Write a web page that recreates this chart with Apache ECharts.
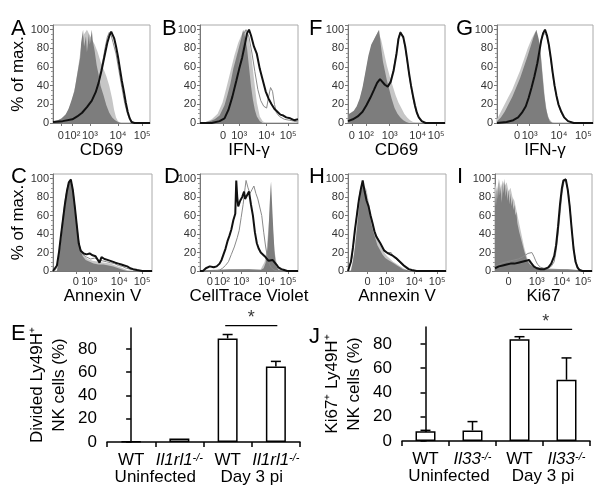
<!DOCTYPE html>
<html><head><meta charset="utf-8">
<script src="https://cdn.jsdelivr.net/npm/echarts@6/dist/echarts.min.js"></script>
<style>html,body{margin:0;padding:0;background:#fff}#c{width:600px;height:497px}</style>
</head><body><div id="c"></div>
<script>
// ---------- Histogram data (x: position along the log/biexponential axis, 0-100; y: % of max) ----------
const aLight = [[0,1],[8,4],[14,10],[19,22],[23,40],[26,60],[29,82],[32,95],[35,100],[39,92],[43,84],[46,76],[49,66],[52,58],[55,50],[58,40],[61,26],[63,14],[65,6],[67,2],[70,0],[100,0]];
const aDark = [[0,2],[5,3],[9,5],[13,9],[16,15],[19,24],[22,34],[24,46],[26,58],[28,70],[29,86],[31,100],[32,82],[34,93],[35,76],[37,96],[38,84],[40,100],[41,88],[43,77],[45,62],[47,52],[49,40],[52,30],[55,19],[58,11],[61,6],[64,3],[67,1],[70,0],[100,0]];
const aGray = [[0,1],[12,2],[20,4],[26,7],[32,13],[37,20],[42,30],[46,42],[49,55],[52,70],[54,82],[56,92],[58,97],[60,94],[62,86],[65,74],[68,56],[71,38],[74,21],[77,9],[80,3],[83,0],[100,0]];
const aBlack = [[0,1],[10,2],[20,4],[25,7],[30,11],[35,17],[40,24],[44,33],[47,43],[50,56],[52,66],[54,76],[56,86],[58,93],[60,98],[61,100],[63,91],[65,82],[67,71],[69,58],[71,45],[73,34],[75,22],[77,12],[79,5],[81,1],[84,0],[100,0]];

const bLight = [[0,0],[6,1],[12,4],[18,10],[23,22],[27,38],[31,55],[35,72],[39,86],[43,96],[46,100],[49,94],[52,76],[55,48],[58,22],[61,7],[64,2],[67,0],[100,0]];
const bDark = [[0,0],[10,2],[15,4],[20,8],[25,19],[28,30],[31,42],[34,58],[37,70],[40,82],[42,90],[44,100],[46,92],[48,80],[50,60],[52,40],[54,25],[56,14],[58,7],[61,2],[64,0],[100,0]];
const bGray = [[0,0],[12,0],[22,3],[28,10],[33,25],[38,50],[42,80],[45,96],[47,100],[50,92],[53,75],[56,55],[59,36],[62,24],[65,18],[68,16],[70,28],[72,38],[74,34],[76,20],[78,11],[81,7],[86,4],[91,3],[96,2],[100,1]];
const bBlack = [[0,0],[12,0],[20,2],[25,5],[29,14],[33,28],[37,45],[40,58],[43,70],[46,85],[48,96],[50,100],[52,94],[55,82],[58,74],[61,58],[64,46],[67,34],[70,26],[73,20],[76,15],[79,12],[82,9],[85,8],[88,6],[92,5],[96,3],[100,4]];

const fLight = [[0,6],[4,9],[8,14],[12,24],[16,42],[20,64],[24,82],[28,92],[31,98],[34,90],[37,76],[40,62],[43,50],[46,40],[49,30],[52,22],[55,16],[58,10],[61,6],[64,3],[67,1],[70,0],[100,0]];
const fDark = [[0,9],[3,11],[6,13],[9,18],[12,26],[15,38],[18,55],[21,72],[24,84],[27,90],[30,96],[32,100],[34,82],[36,66],[38,56],[40,46],[42,38],[45,26],[48,16],[51,10],[54,6],[57,3],[60,1],[63,0],[100,0]];
const fGray = [[0,2],[5,4],[10,8],[15,13],[19,20],[23,28],[27,37],[30,44],[33,47],[35,45],[38,41],[41,40],[44,46],[47,58],[50,76],[52,91],[54,98],[55,97],[57,91],[59,80],[61,66],[63,51],[65,38],[67,27],[69,17],[71,10],[73,5],[76,2],[80,0],[100,0]];
const fBlack = [[0,2],[5,4],[10,7],[15,12],[19,19],[23,27],[27,36],[30,43],[33,47],[35,46],[38,41],[41,39],[44,44],[47,56],[50,74],[52,90],[54,97],[55,99],[57,92],[59,82],[61,68],[63,53],[65,40],[67,29],[69,19],[71,11],[73,6],[76,2],[80,0],[100,0]];

const gLight = [[0,4],[4,12],[8,20],[12,28],[16,36],[20,46],[24,56],[28,68],[32,80],[36,90],[40,98],[42,100],[44,88],[46,70],[48,48],[50,26],[52,12],[54,5],[57,1],[60,0],[100,0]];
const gDark = [[0,2],[4,6],[8,12],[12,20],[16,28],[20,38],[24,48],[28,60],[32,72],[35,82],[38,92],[41,100],[43,92],[45,80],[47,55],[49,32],[51,16],[53,7],[55,2],[58,0],[100,0]];
const gGray = [[0,0],[10,1],[17,3],[22,7],[26,12],[30,19],[33,28],[36,40],[39,52],[42,66],[44,78],[46,89],[48,97],[50,99],[52,93],[54,82],[56,68],[58,52],[60,38],[62,28],[64,19],[67,11],[70,5],[74,2],[80,0],[100,0]];
const gBlack = [[0,0],[10,1],[17,3],[22,6],[26,11],[30,18],[33,27],[36,38],[39,50],[42,64],[44,76],[46,88],[48,96],[50,100],[52,94],[54,84],[56,70],[58,54],[60,40],[62,29],[64,20],[67,12],[70,6],[74,2],[80,0],[100,0]];

const cLight = [[0,0],[4,0],[6,12],[8,30],[10,52],[12,74],[14,90],[16,98],[18,96],[20,86],[22,68],[24,50],[26,34],[28,24],[31,17],[35,13],[40,11],[46,10],[52,9],[58,8],[63,6],[68,4],[73,2],[77,0],[100,0]];
const cDark = [[0,0],[4,0],[6,15],[8,32],[10,50],[12,70],[14,88],[16,96],[18,100],[20,85],[22,65],[24,48],[26,32],[28,22],[30,16],[33,12],[37,10],[41,8],[46,7],[51,7],[56,6],[61,5],[66,3],[71,1],[75,0],[100,0]];
const cGray = [[0,0],[3,2],[5,10],[7,28],[9,48],[11,66],[13,82],[15,92],[17,97],[19,94],[21,80],[23,60],[25,40],[27,26],[30,18],[34,15],[38,13],[42,14],[46,12],[50,11],[54,10],[58,9],[62,8],[66,6],[70,5],[74,3],[78,2],[83,1],[88,0],[100,0]];
const cBlack = [[0,0],[2,1],[4,6],[6,20],[8,38],[10,55],[12,72],[14,86],[16,96],[18,99],[20,88],[22,70],[24,50],[26,30],[28,22],[31,19],[34,18],[37,19],[40,17],[43,16],[45,15],[47,9],[49,15],[52,13],[55,12],[58,11],[60,12],[63,9],[66,8],[69,7],[72,6],[75,5],[78,3],[81,2],[85,1],[90,0],[100,0]];

const dLight = [[0,0],[10,1],[30,1],[50,2],[62,2],[64,4],[66,10],[68,24],[69.5,42],[71,62],[72,72],[73,66],[74,52],[75,36],[76,22],[78,10],[80,4],[82,1],[85,0],[100,0]];
const dDark = [[0,0],[10,1],[30,2],[50,2],[62,1],[65,3],[67,9],[69,26],[70,45],[71,70],[72,90],[72.5,97],[73,85],[74,62],[75,40],[76,22],[77,10],[78,5],[80,1],[82,0],[100,0]];
const dGray = [[0,0],[15,0],[20,1],[23,3],[26,6],[29,10],[32,18],[35,26],[38,36],[40,44],[42,58],[44,72],[46,90],[47,98],[49,90],[51,84],[53,88],[55,92],[57,84],[59,78],[61,76],[63,60],[65,42],[67,26],[69,14],[71,7],[73,3],[76,1],[79,0],[100,0]];
const dBlack = [[0,0],[3,0],[6,3],[10,5],[14,4],[17,5],[20,8],[22,12],[24,18],[26,24],[28,32],[30,38],[32,45],[34,55],[36,62],[37,98],[38,80],[39,70],[41,76],[43,80],[45,86],[46,78],[48,80],[50,86],[52,72],[54,60],[56,42],[58,30],[60,24],[62,20],[64,18],[66,16],[68,14],[70,11],[72,9],[74,12],[76,10],[78,7],[80,4],[83,2],[86,1],[89,0],[100,0]];

const hLight = [[0,0],[3,1],[5,12],[7,28],[9,50],[11,70],[13,86],[15,95],[17,96],[19,88],[21,76],[23,64],[25,54],[27,45],[29,38],[31,32],[34,26],[37,20],[40,16],[43,13],[46,10],[49,8],[52,6],[55,4],[58,2],[62,1],[66,0],[100,0]];
const hDark = [[0,0],[3,0],[5,10],[7,24],[9,44],[11,66],[13,84],[15,96],[16,98],[18,86],[20,74],[22,62],[24,50],[26,42],[28,35],[30,28],[32,24],[35,18],[38,14],[41,12],[44,10],[47,8],[50,6],[53,4],[56,2],[60,1],[64,0],[100,0]];
const hGray = [[0,0],[2,1],[4,14],[6,32],[8,52],[10,70],[12,84],[14,94],[16,96],[18,84],[20,72],[22,62],[24,54],[26,46],[28,40],[30,36],[32,32],[34,28],[36,24],[38,22],[40,20],[42,19],[44,20],[46,16],[48,14],[50,12],[52,10],[55,7],[58,4],[61,2],[64,1],[68,0],[100,0]];
const hBlack = [[0,0],[2,1],[3,10],[5,25],[7,44],[9,60],[11,76],[13,88],[15,98],[17,86],[19,76],[21,70],[23,60],[25,52],[27,43],[29,37],[31,35],[33,30],[35,26],[37,22],[39,20],[41,19],[43,18],[45,17],[47,15],[49,14],[51,12],[53,10],[55,8],[57,6],[59,4],[62,2],[65,1],[70,0],[100,0]];

const iLight = [[0,95],[2,86],[4,100],[6,90],[8,98],[10,92],[12,96],[14,86],[16,90],[18,80],[20,76],[22,66],[24,56],[26,46],[28,36],[30,26],[32,18],[34,12],[37,8],[40,5],[45,4],[55,3],[70,2],[85,1],[90,0],[100,0]];
const iDark = [[0,88],[1,70],[2,92],[3,78],[4,96],[5,82],[6,90],[7,74],[8,95],[9,84],[10,100],[11,80],[12,90],[13,76],[14,88],[15,72],[16,84],[17,70],[18,78],[19,66],[20,72],[21,60],[22,64],[23,52],[24,50],[25,42],[26,40],[28,30],[30,22],[32,15],[34,10],[36,7],[39,5],[43,4],[48,3],[55,2],[65,2],[75,2],[85,1],[90,0],[100,0]];
const iGray = [[0,5],[4,7],[8,9],[12,10],[16,11],[20,12],[24,13],[28,15],[31,17],[34,19],[36,21],[38,20],[40,16],[42,11],[44,7],[47,4],[50,3],[54,3],[58,5],[61,10],[63,22],[65,40],[67,62],[69,84],[71,96],[72.5,100],[74,94],[76,82],[78,60],[80,36],[82,18],[84,8],[86,3],[89,1],[92,0],[100,0]];
const iBlack = [[0,3],[4,5],[8,6],[12,7],[16,8],[20,8],[24,9],[28,10],[32,11],[35,12],[37,9],[40,5],[43,3],[47,2],[51,2],[55,4],[58,8],[61,16],[63,28],[65,48],[67,72],[69,90],[70.5,98],[72,96],[73,99],[75,88],[77,70],[79,46],[81,24],[83,10],[85,4],[87,1],[90,0],[100,0]];

// ---------- Histogram axis tick positions / labels ----------
const tickPosA = [8, 20, 38, 67, 92], tickLabA = ['0', '10²', '10³', '10⁴', '10⁵'];
const tickPosB = [23.5, 40, 68, 90], tickLabB = ['0', '10³', '10⁴', '10⁵'];
const tickPosF = [4, 18.5, 43, 72, 91], tickLabF = ['0', '10²', '10³', '10⁴', '10⁵'];
const tickPosG = [21, 34, 64.5, 90], tickLabG = ['0', '10³', '10⁴', '10⁵'];
const tickPosC = [23, 36.5, 67, 90], tickLabC = ['0', '10³', '10⁴', '10⁵'];
const tickPosD = [10, 22.5, 42, 68, 90], tickLabD = ['0', '10²', '10³', '10⁴', '10⁵'];
const tickPosH = [20, 39, 67.5, 91], tickLabH = ['0', '10³', '10⁴', '10⁵'];
const tickPosI = [14, 43, 69, 91], tickLabI = ['0', '10³', '10⁴', '10⁵'];

// ---------- Bar chart data ----------
const eCategories = ['WT', 'Il1rl1', 'WT', 'Il1rl1'];
const eGroups = ['Uninfected', 'Day 3 pi'];
const eValues = [0.5, 3.0, 89, 65];
const eErrors = [0, 0, 3.4, 4.3];
const eSig = [2, 3], eSigLevel = 100;

const jCategories = ['WT', 'Il33', 'WT', 'Il33'];
const jGroups = ['Uninfected', 'Day 3 pi'];
const jValues = [8, 8.7, 84, 50.5];
const jErrors = [0.8, 7.3, 2, 18];
const jSig = [2, 3], jSigLevel = 92;
const barTicks = [0, 20, 40, 60, 80];

// ---------- Build ----------
const FONT = '"Liberation Sans", Arial, Helvetica, sans-serif';
const chart = echarts.init(document.getElementById('c'), null, {renderer: 'canvas'});

const panels = [
  {L: 'A', box: [53, 25, 97, 98], pos: tickPosA, lab: tickLabA, name: 'CD69', c: [aLight, aDark, aGray, aBlack], yName: true, lm: 7, ng: 9, letter: [6, 13]},
  {L: 'B', box: [200, 25, 98, 98], pos: tickPosB, lab: tickLabB, name: 'IFN-γ', c: [bLight, bDark, bGray, bBlack], lm: 7, ng: 9, letter: [157, 13]},
  {L: 'F', box: [348, 25, 97, 98], pos: tickPosF, lab: tickLabF, name: 'CD69', c: [fLight, fDark, fGray, fBlack], lm: 7, ng: 9, letter: [304, 13]},
  {L: 'G', box: [497, 25, 96, 98], pos: tickPosG, lab: tickLabG, name: 'IFN-γ', c: [gLight, gDark, gGray, gBlack], lm: 7, ng: 9, letter: [451, 13]},
  {L: 'C', box: [53, 174, 99, 97], pos: tickPosC, lab: tickLabC, name: 'Annexin V', c: [cLight, cDark, cGray, cBlack], yName: true, lm: 5, ng: 16, letter: [6, 161]},
  {L: 'D', box: [200, 174, 98, 97], pos: tickPosD, lab: tickLabD, name: 'CellTrace Violet', c: [dLight, dDark, dGray, dBlack], lm: 5, ng: 16, letter: [159, 161]},
  {L: 'H', box: [348, 174, 98, 97], pos: tickPosH, lab: tickLabH, name: 'Annexin V', c: [hLight, hDark, hGray, hBlack], lm: 5, ng: 16, letter: [304, 161]},
  {L: 'I', box: [495, 174, 97, 97], pos: tickPosI, lab: tickLabI, name: 'Ki67', c: [iLight, iDark, iGray, iBlack], lm: 5, ng: 16, letter: [452, 161]}
];

const grid = [], xAxis = [], yAxis = [], series = [], title = [];
const curveStyles = [
  {area: '#c6c6c6'},
  {area: '#7d7d7d'},
  {line: '#8a8a8a', w: 1},
  {line: '#111111', w: 2}
];

panels.forEach((p, i) => {
  grid.push({left: p.box[0], top: p.box[1], width: p.box[2], height: p.box[3], show: true, borderColor: '#aaaaaa', borderWidth: 1});
  xAxis.push({
    gridIndex: i, type: 'value', min: 0, max: 100, position: 'bottom',
    axisLine: {show: true, onZero: false, lineStyle: {color: '#777', width: 1}},
    axisTick: {show: true, customValues: p.pos, length: 3, lineStyle: {color: '#777'}},
    axisLabel: {customValues: p.pos, fontSize: 11, color: '#333', margin: p.lm, fontFamily: FONT, hideOverlap: false,
      formatter: v => { const k = p.pos.findIndex(t => Math.abs(t - v) < 0.01); return k >= 0 ? p.lab[k] : ''; }},
    splitLine: {show: false},
    name: p.name, nameLocation: 'middle', nameGap: p.ng,
    nameTextStyle: {fontSize: 17, color: '#000', fontFamily: FONT}
  });
  yAxis.push({
    gridIndex: i, type: 'value', min: 0, max: 105, interval: 20,
    axisLine: {show: true, onZero: false, lineStyle: {color: '#777', width: 1}},
    axisTick: {show: true, length: 3, lineStyle: {color: '#777'}},
    minorTick: {show: true, splitNumber: 4, length: 2, lineStyle: {color: '#999'}},
    axisLabel: {fontSize: 11, color: '#333', margin: 4, fontFamily: FONT, formatter: v => v > 100 ? '' : String(v)},
    splitLine: {show: false},
    name: p.yName ? '% of max.' : '', nameLocation: 'middle', nameGap: 24, nameRotate: 90,
    nameTextStyle: {fontSize: 17, color: '#000', fontFamily: FONT}
  });
  p.c.forEach((d, k) => {
    const s = curveStyles[k];
    const ser = {type: 'line', xAxisIndex: i, yAxisIndex: i, data: d, symbol: 'none', silent: true, z: 2 + k};
    if (s.area) { ser.lineStyle = {width: 0}; ser.areaStyle = {color: s.area, opacity: 1}; }
    else { ser.lineStyle = {color: s.line, width: s.w}; }
    series.push(ser);
  });
  title.push({text: p.L, left: p.letter[0], top: p.letter[1], textStyle: {fontSize: 22, fontWeight: 'normal', color: '#000', fontFamily: FONT}});
});

function barPanel(cfg) {
  const gi = grid.length;
  grid.push({left: cfg.box[0], top: cfg.box[1], width: cfg.box[2], height: cfg.box[3]});
  const xi = xAxis.length;
  const rich = {
    n: {fontSize: 17, color: '#000', fontFamily: FONT},
    it: {fontSize: 17, color: '#000', fontStyle: 'italic', fontFamily: FONT},
    sup: {fontSize: 11, color: '#000', fontStyle: 'italic', fontFamily: FONT, verticalAlign: 'top', padding: [0, 0, 4, 0]}
  };
  xAxis.push({
    gridIndex: gi, type: 'category', data: cfg.cats, position: 'bottom',
    axisLine: {show: true, lineStyle: {color: '#000', width: 1.5}},
    axisTick: {show: true, length: 5, lineStyle: {color: '#000', width: 1.5}},
    axisLabel: {margin: 10, interval: 0, rich: rich, formatter: v => v === 'WT' ? '{n|WT}' : '{it|' + v + '}{sup|-/-}'}
  });
  xAxis.push({
    gridIndex: gi, type: 'category', data: cfg.groups, position: 'bottom', offset: 17,
    axisLine: {show: false}, axisTick: {show: false},
    axisLabel: {margin: 10, interval: 0, fontSize: 17, color: '#000', fontFamily: FONT}
  });
  const xv = xAxis.length;
  xAxis.push({gridIndex: gi, type: 'value', min: -0.5, max: cfg.cats.length - 0.5, show: false, position: 'bottom'});
  const yi = yAxis.length;
  yAxis.push({
    gridIndex: gi, type: 'value', min: 0, max: cfg.max,
    axisLine: {show: true, lineStyle: {color: '#000', width: 1.5}},
    axisTick: {show: true, length: 5, customValues: barTicks, lineStyle: {color: '#000', width: 1.5}},
    axisLabel: {customValues: barTicks, fontSize: 17, color: '#000', margin: 10, fontFamily: FONT},
    splitLine: {show: false},
    name: cfg.yName, nameLocation: 'middle', nameGap: 37, nameRotate: 90,
    nameTextStyle: {fontSize: 17, lineHeight: 22, color: '#000', fontFamily: FONT, align: 'center'}
  });
  series.push({type: 'bar', xAxisIndex: xi, yAxisIndex: yi, data: cfg.values, barWidth: 20,
    itemStyle: {color: '#fff', borderColor: '#000', borderWidth: 1.5}, silent: true});
  series.push({type: 'custom', xAxisIndex: xi, yAxisIndex: yi, z: 5, silent: true,
    data: cfg.values.map((v, k) => [k, v, cfg.errors[k]]),
    renderItem: (params, api) => {
      const x = api.value(0), y = api.value(1), e = api.value(2);
      if (!e) return null;
      const p0 = api.coord([x, y]), p1 = api.coord([x, y + e]);
      return {type: 'group', children: [
        {type: 'line', shape: {x1: p0[0], y1: p0[1], x2: p1[0], y2: p1[1]}, style: {stroke: '#000', lineWidth: 1.5}},
        {type: 'line', shape: {x1: p1[0] - 5, y1: p1[1], x2: p1[0] + 5, y2: p1[1]}, style: {stroke: '#000', lineWidth: 1.5}}
      ]};
    }});
  series.push({type: 'line', xAxisIndex: xv, yAxisIndex: yi, clip: false, symbol: 'none', silent: true,
    data: [[cfg.sig[0] - cfg.ext[0], cfg.sigLevel], [cfg.sig[1] + cfg.ext[1], cfg.sigLevel]],
    lineStyle: {color: '#000', width: 1.2}});
  series.push({type: 'scatter', xAxisIndex: xv, yAxisIndex: yi, clip: false, symbolSize: 1, silent: true,
    itemStyle: {color: 'transparent'},
    data: [[(cfg.sig[0] + cfg.sig[1]) / 2 + (cfg.ext[1] - cfg.ext[0]) / 2, cfg.sigLevel]],
    label: {show: true, position: 'top', distance: -2, formatter: '*', fontSize: 18, color: '#000', fontFamily: FONT}});
  title.push({text: cfg.L, left: cfg.letter[0], top: cfg.letter[1], textStyle: {fontSize: 22, fontWeight: 'normal', color: '#000', fontFamily: FONT}});
}

barPanel({L: 'E', box: [107, 328, 193, 114], cats: eCategories, groups: eGroups, values: eValues, errors: eErrors,
  max: 98, sig: eSig, sigLevel: eSigLevel, ext: [0.05, 0.03], yName: 'Divided Ly49H⁺\nNK cells (%)', letter: [6, 318]});
barPanel({L: 'J', box: [402, 327, 188, 114], cats: jCategories, groups: jGroups, values: jValues, errors: jErrors,
  max: 94, sig: jSig, sigLevel: jSigLevel, ext: [0, 0.12], yName: 'Ki67⁺ Ly49H⁺\nNK cells (%)', letter: [304, 321]});

chart.setOption({animation: false, backgroundColor: '#fff', textStyle: {fontFamily: FONT},
  title, grid, xAxis, yAxis, series});
</script></body></html>
